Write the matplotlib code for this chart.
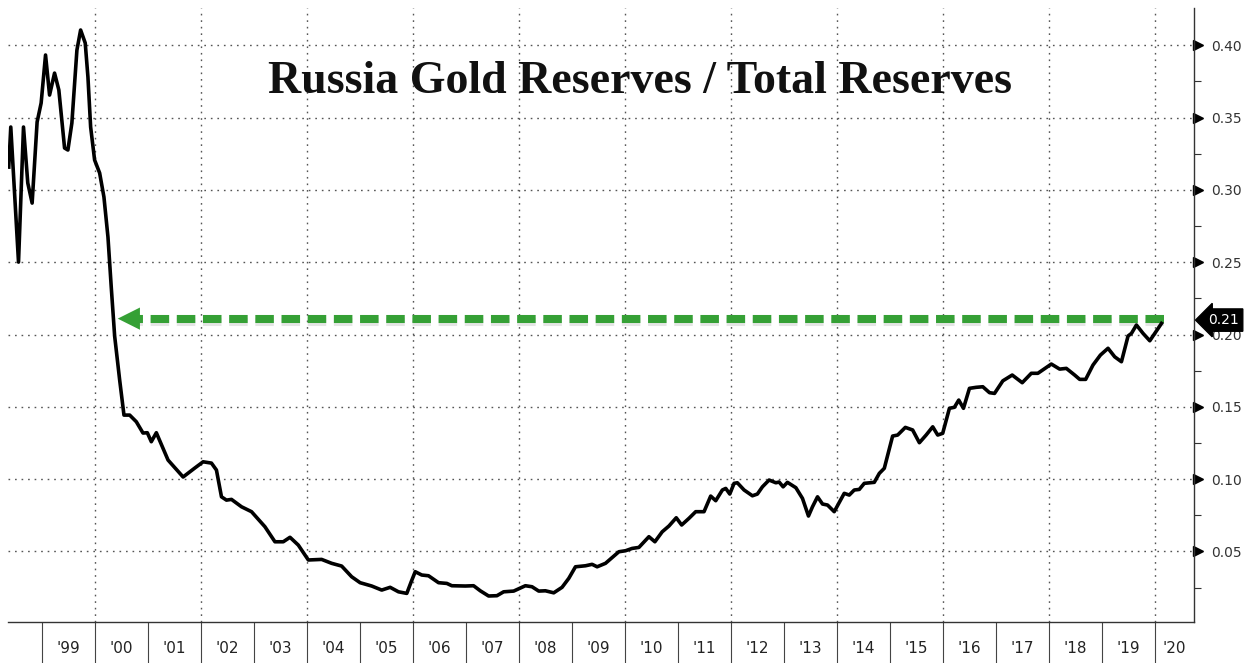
import matplotlib
matplotlib.use('Agg')
import matplotlib.pyplot as plt
import matplotlib.patheffects as pe
import matplotlib.transforms as mtransforms
import numpy as np

# gold share of total reserves (decimal year, ratio)
years = [1998.374, 1998.412, 1998.558, 1998.652, 1998.733, 1998.815, 1998.909, 1998.985,
         1999.068, 1999.144, 1999.238, 1999.319, 1999.427, 1999.490, 1999.565, 1999.660,
         1999.730, 1999.817, 1999.868, 1999.919, 1999.994, 2000.089, 2000.170, 2000.246,
         2000.308, 2000.372, 2000.467, 2000.548, 2000.656, 2000.781, 2000.907, 2000.989,
         2001.064, 2001.159, 2001.380, 2001.664, 2001.885, 2002.042, 2002.199, 2002.293,
         2002.388, 2002.482, 2002.577, 2002.766, 2002.955, 2003.208, 2003.397, 2003.554,
         2003.681, 2003.838, 2004.027, 2004.278, 2004.467, 2004.656, 2004.845, 2005.004,
         2005.223, 2005.412, 2005.571, 2005.728, 2005.885, 2005.968, 2006.044, 2006.168,
         2006.295, 2006.484, 2006.641, 2006.735, 2006.989, 2007.146, 2007.272, 2007.429,
         2007.586, 2007.713, 2007.902, 2008.123, 2008.248, 2008.375, 2008.501, 2008.658,
         2008.815, 2008.942, 2009.068, 2009.257, 2009.382, 2009.477, 2009.635, 2009.887,
         2010.013, 2010.138, 2010.265, 2010.454, 2010.567, 2010.705, 2010.832, 2010.970,
         2011.072, 2011.210, 2011.337, 2011.494, 2011.620, 2011.715, 2011.840, 2011.904,
         2011.980, 2012.061, 2012.123, 2012.250, 2012.407, 2012.501, 2012.596, 2012.722,
         2012.849, 2012.911, 2012.987, 2013.068, 2013.227, 2013.352, 2013.465, 2013.541,
         2013.636, 2013.730, 2013.825, 2013.951, 2014.140, 2014.235, 2014.329, 2014.424,
         2014.518, 2014.707, 2014.802, 2014.896, 2015.053, 2015.148, 2015.293, 2015.431,
         2015.558, 2015.685, 2015.810, 2015.904, 2015.998, 2016.125, 2016.219, 2016.301,
         2016.390, 2016.503, 2016.630, 2016.755, 2016.881, 2016.976, 2017.133, 2017.310,
         2017.499, 2017.670, 2017.794, 2018.048, 2018.205, 2018.331, 2018.488, 2018.583,
         2018.696, 2018.834, 2018.974, 2019.118, 2019.244, 2019.371, 2019.496, 2019.560,
         2019.654, 2019.779, 2019.906, 2020.000, 2020.127]
ratio = [0.3158, 0.3435, 0.2501, 0.3435, 0.3048, 0.2909, 0.3470, 0.3601,
         0.3933, 0.3656, 0.3808, 0.3691, 0.3290, 0.3276, 0.3463, 0.3967,
         0.4106, 0.4016, 0.3781, 0.3435, 0.3207, 0.3117, 0.2951, 0.2674,
         0.2328, 0.1990, 0.1685, 0.1443, 0.1443, 0.1397, 0.1319, 0.1321,
         0.1259, 0.1321, 0.1132, 0.1015, 0.1077, 0.1120, 0.1111, 0.1063,
         0.0878, 0.0855, 0.0860, 0.0809, 0.0775, 0.0671, 0.0567, 0.0567,
         0.0598, 0.0544, 0.0441, 0.0445, 0.0418, 0.0399, 0.0325, 0.0284,
         0.0261, 0.0233, 0.0252, 0.0221, 0.0210, 0.0290, 0.0360, 0.0337,
         0.0332, 0.0284, 0.0279, 0.0263, 0.0261, 0.0263, 0.0228, 0.0192,
         0.0194, 0.0221, 0.0226, 0.0263, 0.0256, 0.0226, 0.0228, 0.0214,
         0.0252, 0.0314, 0.0394, 0.0401, 0.0411, 0.0394, 0.0418, 0.0498,
         0.0505, 0.0521, 0.0528, 0.0602, 0.0567, 0.0636, 0.0676, 0.0733,
         0.0683, 0.0729, 0.0775, 0.0775, 0.0883, 0.0851, 0.0925, 0.0936,
         0.0897, 0.0971, 0.0975, 0.0925, 0.0885, 0.0897, 0.0947, 0.0994,
         0.0975, 0.0980, 0.0947, 0.0978, 0.0941, 0.0867, 0.0745, 0.0809,
         0.0878, 0.0828, 0.0821, 0.0775, 0.0902, 0.0890, 0.0925, 0.0929,
         0.0971, 0.0978, 0.1040, 0.1075, 0.1298, 0.1305, 0.1358, 0.1340,
         0.1252, 0.1305, 0.1362, 0.1305, 0.1317, 0.1490, 0.1497, 0.1547,
         0.1490, 0.1628, 0.1635, 0.1639, 0.1598, 0.1593, 0.1680, 0.1720,
         0.1667, 0.1732, 0.1732, 0.1796, 0.1761, 0.1766, 0.1720, 0.1690,
         0.1690, 0.1789, 0.1858, 0.1905, 0.1846, 0.1812, 0.1990, 0.2008,
         0.2066, 0.2008, 0.1957, 0.2008, 0.2077]

year_starts = list(range(1999, 2021))
year_labels = ["'99", "'00", "'01", "'02", "'03", "'04", "'05", "'06", "'07", "'08", "'09",
               "'10", "'11", "'12", "'13", "'14", "'15", "'16", "'17", "'18", "'19", "'20"]
yticks = [0.05, 0.10, 0.15, 0.20, 0.25, 0.30, 0.35, 0.40]
yminor = [0.025, 0.075, 0.125, 0.175, 0.225, 0.275, 0.325, 0.375]
last_value = 0.21
arrow_level = 0.211
arrow_from = 2020.17
arrow_to = 2000.43
title = "Russia Gold Reserves / Total Reserves"

xmin, xmax = 1998.36, 2020.74
green = '#35a035'

fig = plt.figure(figsize=(12.53, 6.63), dpi=100)
ax = fig.add_axes([0.0064, 0.0618, 0.9465, 0.9261])

ax.set_xlim(xmin, xmax)
ax.set_ylim(0.0012, 0.4258)

for s in ['left', 'top']:
    ax.spines[s].set_visible(False)
ax.spines['right'].set_color('#333333')
ax.spines['bottom'].set_color('#333333')
ax.spines['right'].set_linewidth(1.0)
ax.spines['bottom'].set_linewidth(1.0)

# grid: dotted, horizontal on major y, vertical on even years
dot = (0, (1.2, 3.5))
for v in yticks:
    ax.axhline(v, color='#555555', lw=1.0, ls=dot, zorder=1)
for yr in year_starts:
    if yr % 2 == 0:
        ax.axvline(yr, color='#555555', lw=1.0, ls=dot, zorder=1)

# main series
ax.plot(years, ratio, color='black', lw=2.6, solid_joinstyle='round', zorder=5)

# green dashed arrow
shadow = [pe.SimpleLineShadow(offset=(0, -2.5), shadow_color='#999999', alpha=0.25), pe.Normal()]
ax.plot([arrow_from, arrow_to + 0.3], [arrow_level, arrow_level], color=green,
        lw=5.8, ls=(0, (2.3, 0.95)), solid_capstyle='butt', zorder=4, path_effects=shadow)
ax.annotate('', xy=(arrow_to, arrow_level), xytext=(arrow_to + 0.5, arrow_level),
            arrowprops=dict(arrowstyle='-|>', color=green, lw=0,
                            mutation_scale=40, shrinkA=0, shrinkB=0), zorder=4)

# x axis: year boundary lines below, labels centered in each year
ax.set_xticks(year_starts)
ax.set_xticklabels([''] * len(year_starts))
ax.tick_params(axis='x', which='major', length=30, width=0.8, color='#444444', direction='out')
mids = [(y + min(y + 1, xmax)) / 2 for y in year_starts]
ax.set_xticks(mids, minor=True)
ax.set_xticklabels(year_labels, minor=True)
ax.tick_params(axis='x', which='minor', length=0, pad=14, labelsize=11, labelcolor='#222222')

# y axis on right
ax.yaxis.tick_right()
ax.set_yticks(yticks)
ax.set_yticklabels(['%.2f' % v for v in yticks])
ax.set_yticks(yminor, minor=True)
ax.tick_params(axis='y', which='major', length=0, pad=12, labelsize=10, labelcolor='#333333')
ax.tick_params(axis='y', which='minor', length=5, width=0.8, color='#333333', direction='out')
tri = mtransforms.offset_copy(ax.get_yaxis_transform(), fig=fig, x=4, y=0, units='dots')
ax.plot([1] * len(yticks), yticks, ls='none', marker='>', ms=7, color='black',
        transform=tri, clip_on=False)

# last value tag
ax.annotate('%.2f' % last_value, xy=(1, last_value), xycoords=ax.get_yaxis_transform(),
            xytext=(10, 0), textcoords='offset points', ha='left', va='center',
            color='white', fontsize=10,
            bbox=dict(boxstyle='larrow,pad=0.3', fc='black', ec='black'), zorder=10,
            annotation_clip=False)

fig.text(0.511, 0.876, title, ha='center', va='center', fontsize=33,
         fontweight='bold', family=['Liberation Serif', 'DejaVu Serif'], color='#111111')

fig.savefig('out.png', dpi=100)
